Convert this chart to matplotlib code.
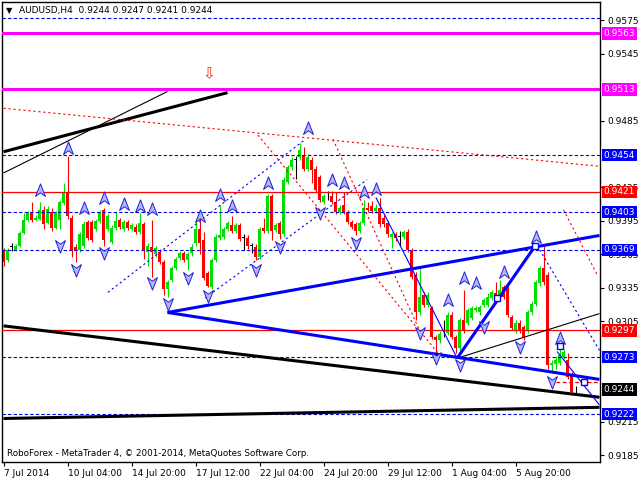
import numpy as np
import matplotlib.pyplot as plt
from matplotlib.path import Path
import matplotlib.transforms as mtransforms

# AUDUSD H4 candles
opens = [0.9369, 0.9360, 0.9372, 0.9369, 0.9373, 0.9384, 0.9396, 0.9402, 0.9396, 0.9397,
         0.9405, 0.9393, 0.9403, 0.9389, 0.9396, 0.9411, 0.9421, 0.9398, 0.9372, 0.9369,
         0.9373, 0.9394, 0.9394, 0.9388, 0.9395, 0.9405, 0.9388, 0.9376, 0.9389, 0.9396,
         0.9388, 0.9394, 0.9388, 0.9390, 0.9385, 0.9392, 0.9367, 0.9372, 0.9365, 0.9367,
         0.9358, 0.9334, 0.9342, 0.9353, 0.9362, 0.9366, 0.9360, 0.9366, 0.9375, 0.9388,
         0.9378, 0.9348, 0.9336, 0.9360, 0.9380, 0.9381, 0.9388, 0.9391, 0.9386, 0.9391,
         0.9380, 0.9380, 0.9373, 0.9372, 0.9363, 0.9389, 0.9386, 0.9417, 0.9387, 0.9393,
         0.9383, 0.9430, 0.9443, 0.9450, 0.9452, 0.9454, 0.9442, 0.9450, 0.9442, 0.9434,
         0.9412, 0.9418, 0.9417, 0.9412, 0.9403, 0.9409, 0.9403, 0.9394, 0.9392, 0.9386,
         0.9393, 0.9407, 0.9408, 0.9404, 0.9407, 0.9398, 0.9393, 0.9381, 0.9383, 0.9381,
         0.9381, 0.9385, 0.9369, 0.9347, 0.9313, 0.9329, 0.9320, 0.9317, 0.9291, 0.9288,
         0.9293, 0.9295, 0.9311, 0.9291, 0.9281, 0.9306, 0.9304, 0.9308, 0.9315, 0.9313,
         0.9320, 0.9320, 0.9326, 0.9330, 0.9326, 0.9336, 0.9335, 0.9309, 0.9297, 0.9304,
         0.9300, 0.9297, 0.9313, 0.9321, 0.9339, 0.9353, 0.9347, 0.9266, 0.9267, 0.9268,
         0.9273, 0.9270, 0.9258, 0.9244]
highs = [0.9371, 0.9371, 0.9375, 0.9374, 0.9386, 0.9402, 0.9404, 0.9412, 0.9400, 0.9412,
         0.9408, 0.9408, 0.9407, 0.9404, 0.9414, 0.9429, 0.9453, 0.9400, 0.9374, 0.9385,
         0.9395, 0.9396, 0.9396, 0.9397, 0.9405, 0.9407, 0.9401, 0.9391, 0.9403, 0.9398,
         0.9396, 0.9396, 0.9393, 0.9392, 0.9402, 0.9394, 0.9375, 0.9396, 0.9373, 0.9370,
         0.9360, 0.9342, 0.9355, 0.9363, 0.9368, 0.9368, 0.9367, 0.9374, 0.9396, 0.9398,
         0.9385, 0.9350, 0.9362, 0.9383, 0.9409, 0.9390, 0.9395, 0.9399, 0.9393, 0.9393,
         0.9383, 0.9382, 0.9375, 0.9374, 0.9390, 0.9398, 0.9419, 0.9419, 0.9393, 0.9395,
         0.9434, 0.9445, 0.9452, 0.9453, 0.9465, 0.9461, 0.9455, 0.9452, 0.9444, 0.9436,
         0.9419, 0.9422, 0.9422, 0.9421, 0.9409, 0.9421, 0.9405, 0.9396, 0.9394, 0.9395,
         0.9414, 0.9412, 0.9413, 0.9410, 0.9416, 0.9400, 0.9395, 0.9385, 0.9385, 0.9386,
         0.9387, 0.9388, 0.9371, 0.9349, 0.9353, 0.9331, 0.9331, 0.9319, 0.9293, 0.9296,
         0.9306, 0.9313, 0.9313, 0.9293, 0.9308, 0.9333, 0.9317, 0.9319, 0.9319, 0.9320,
         0.9326, 0.9330, 0.9333, 0.9340, 0.9342, 0.9338, 0.9337, 0.9311, 0.9306, 0.9306,
         0.9302, 0.9315, 0.9323, 0.9342, 0.9355, 0.9374, 0.9349, 0.9270, 0.9274, 0.9283,
         0.9280, 0.9277, 0.9260, 0.9247]
lows = [0.9355, 0.9358, 0.9368, 0.9368, 0.9372, 0.9383, 0.9395, 0.9394, 0.9395, 0.9396,
        0.9388, 0.9392, 0.9386, 0.9388, 0.9388, 0.9409, 0.9397, 0.9363, 0.9358, 0.9367,
        0.9371, 0.9378, 0.9376, 0.9386, 0.9393, 0.9373, 0.9386, 0.9374, 0.9387, 0.9388,
        0.9386, 0.9387, 0.9386, 0.9383, 0.9383, 0.9361, 0.9355, 0.9345, 0.9363, 0.9356,
        0.9329, 0.9327, 0.9340, 0.9351, 0.9360, 0.9358, 0.9351, 0.9364, 0.9373, 0.9365,
        0.9342, 0.9336, 0.9334, 0.9358, 0.9378, 0.9379, 0.9386, 0.9384, 0.9384, 0.9377,
        0.9369, 0.9370, 0.9366, 0.9360, 0.9361, 0.9384, 0.9384, 0.9378, 0.9385, 0.9379,
        0.9381, 0.9428, 0.9441, 0.9433, 0.9450, 0.9440, 0.9440, 0.9429, 0.9421, 0.9412,
        0.9410, 0.9414, 0.9410, 0.9401, 0.9401, 0.9401, 0.9392, 0.9388, 0.9382, 0.9384,
        0.9391, 0.9403, 0.9402, 0.9402, 0.9390, 0.9390, 0.9381, 0.9371, 0.9377, 0.9373,
        0.9379, 0.9367, 0.9343, 0.9306, 0.9311, 0.9318, 0.9318, 0.9289, 0.9277, 0.9286,
        0.9291, 0.9293, 0.9289, 0.9277, 0.9279, 0.9295, 0.9302, 0.9306, 0.9313, 0.9311,
        0.9318, 0.9318, 0.9324, 0.9324, 0.9324, 0.9325, 0.9309, 0.9297, 0.9295, 0.9295,
        0.9288, 0.9295, 0.9311, 0.9319, 0.9337, 0.9338, 0.9262, 0.9259, 0.9262, 0.9266,
        0.9271, 0.9253, 0.9239, 0.9241]
closes = [0.9358, 0.9369, 0.9372, 0.9373, 0.9384, 0.9396, 0.9402, 0.9396, 0.9398, 0.9405,
          0.9392, 0.9406, 0.9389, 0.9402, 0.9412, 0.9421, 0.9399, 0.9369, 0.9368, 0.9383,
          0.9392, 0.9380, 0.9378, 0.9395, 0.9403, 0.9378, 0.9399, 0.9389, 0.9395, 0.9390,
          0.9394, 0.9389, 0.9391, 0.9385, 0.9393, 0.9368, 0.9373, 0.9367, 0.9371, 0.9358,
          0.9334, 0.9340, 0.9353, 0.9361, 0.9366, 0.9360, 0.9365, 0.9372, 0.9388, 0.9375,
          0.9344, 0.9337, 0.9360, 0.9381, 0.9382, 0.9388, 0.9393, 0.9386, 0.9391, 0.9379,
          0.9380, 0.9373, 0.9373, 0.9363, 0.9388, 0.9386, 0.9417, 0.9386, 0.9391, 0.9383,
          0.9432, 0.9443, 0.9450, 0.9450, 0.9459, 0.9442, 0.9452, 0.9441, 0.9423, 0.9414,
          0.9417, 0.9418, 0.9412, 0.9403, 0.9407, 0.9403, 0.9394, 0.9390, 0.9386, 0.9393,
          0.9407, 0.9405, 0.9404, 0.9407, 0.9392, 0.9392, 0.9383, 0.9383, 0.9380, 0.9381,
          0.9385, 0.9369, 0.9345, 0.9313, 0.9327, 0.9320, 0.9329, 0.9291, 0.9288, 0.9294,
          0.9293, 0.9311, 0.9291, 0.9281, 0.9306, 0.9297, 0.9315, 0.9317, 0.9317, 0.9318,
          0.9324, 0.9327, 0.9331, 0.9326, 0.9333, 0.9327, 0.9311, 0.9299, 0.9304, 0.9297,
          0.9290, 0.9313, 0.9321, 0.9340, 0.9353, 0.9340, 0.9266, 0.9268, 0.9270, 0.9275,
          0.9278, 0.9255, 0.9242, 0.9244]

date_bars = [0, 16, 32, 48, 64, 80, 96, 112, 128]
date_labels = ['7 Jul 2014', '10 Jul 04:00', '14 Jul 20:00', '17 Jul 12:00', '22 Jul 04:00',
               '24 Jul 20:00', '29 Jul 12:00', '1 Aug 04:00', '5 Aug 20:00']
# ticks every 0.0030; the ones fully covered by level boxes are left out
price_ticks = [0.9575, 0.9545, 0.9485, 0.9425, 0.9395, 0.9365,
               0.9335, 0.9305, 0.9215, 0.9185]

# horizontal levels
blue_levels = [0.9577, 0.9454, 0.9403, 0.9369, 0.9273, 0.9222]
magenta_levels = [0.9563, 0.9513]
red_levels = [0.9421, 0.9297]
level_boxes = [(0.9563, '#ff00ff'), (0.9513, '#ff00ff'), (0.9454, '#0000ff'),
               (0.9421, '#ff0000'), (0.9403, '#0000ff'), (0.9369, '#0000ff'),
               (0.9297, '#ff0000'), (0.9273, '#0000ff'), (0.9244, '#000000'),
               (0.9222, '#0000ff')]

# trend lines as (bar, price) pairs
black_thick = [[(0, 0.9457), (56, 0.9510)], [(0, 0.9301), (149, 0.9237)],
               [(0, 0.9218), (149, 0.9228)]]
black_thin = [[(0, 0.9438), (41, 0.9511)], [(113.4, 0.9272), (149, 0.9312)]]
blue_thick = [[(41, 0.9313), (149, 0.9382)], [(41, 0.9313), (149, 0.9253)],
              [(113.4, 0.9272), (133, 0.9373)]]
blue_thin = [[(93.1, 0.9416), (113.4, 0.9272)], [(138.4, 0.9278), (149, 0.9230)]]
blue_dotted = [[(26.1, 0.9331), (75.4, 0.9468)], [(50.4, 0.9326), (90.9, 0.9432)],
               [(133.4, 0.9373), (149, 0.9279)]]
red_dotted = [[(0, 0.9496), (149, 0.9444)], [(63.6, 0.9472), (109, 0.9275)],
              [(82.4, 0.9468), (104, 0.9297)], [(140, 0.9405), (148.4, 0.9347)]]
red_dash_short = [(138, 0.9251), (149, 0.9251)]

# fractal arrows
up_bars = [9, 16, 20, 25, 30, 34, 37, 49, 54, 57, 66, 76, 82, 85, 90, 93, 111, 115, 118, 125, 133, 139]
up_prices = [0.9423, 0.9460, 0.9407, 0.9416, 0.9410, 0.9408, 0.9406, 0.9399, 0.9418, 0.9408,
             0.9429, 0.9478, 0.9432, 0.9429, 0.9421, 0.9424, 0.9324, 0.9344, 0.9339, 0.9349,
             0.9381, 0.9290]
dn_bars = [14, 18, 25, 37, 41, 46, 51, 63, 69, 79, 88, 104, 108, 114, 120, 129, 137]
dn_prices = [0.9373, 0.9351, 0.9366, 0.9339, 0.9321, 0.9344, 0.9328, 0.9351, 0.9372, 0.9402,
             0.9375, 0.9295, 0.9272, 0.9266, 0.9300, 0.9282, 0.9251]
square_bars = [123.4, 132.9, 139, 145]
square_prices = [0.9326, 0.9373, 0.9283, 0.9251]

opens, highs, lows, closes = map(np.array, (opens, highs, lows, closes))
idx = np.arange(len(opens))

fig = plt.figure(figsize=(6.4, 4.8), dpi=100)
ax = fig.add_axes([2 / 640, 18 / 480, 598 / 640, 460 / 480])
ax.set_xlim(-0.375, 149.125)
ax.set_ylim(0.91790, 0.95912)

# candles
cols = np.where(closes > opens, '#00e000', np.where(closes < opens, '#ff0000', '#000000'))
ax.vlines(idx, lows, highs, colors=cols, lw=0.8, zorder=2)
body = np.maximum(np.abs(closes - opens), 0.00002)
ax.bar(idx, body, bottom=np.minimum(opens, closes), width=0.7, color=cols, linewidth=0, zorder=2)

# levels
for v in blue_levels:
    ax.axhline(v, color='#0000dd', lw=0.8, ls=(0, (3, 2)), zorder=3)
for v in magenta_levels:
    ax.axhline(v, color='#ff00ff', lw=2.2, zorder=3)
for v in red_levels:
    ax.axhline(v, color='#ff0000', lw=0.9, zorder=3)

def draw(lines, **kw):
    for seg in lines:
        xs, ys = zip(*seg)
        ax.plot(xs, ys, solid_capstyle='butt', zorder=3, **kw)

draw(black_thick, color='black', lw=2.2)
draw(black_thin, color='black', lw=0.8)
draw(blue_thick, color='#0000ff', lw=2.2)
draw(blue_thin, color='#0000ff', lw=0.8)
draw(blue_dotted, color='#0000ff', lw=0.8, ls=(0, (2, 2.5)))
draw(red_dotted, color='#ff0000', lw=0.8, ls=(0, (2, 2.5)))
draw([red_dash_short], color='#ff0000', lw=0.9, ls=(0, (3, 2)))

up_path = Path([(0, 1), (0.75, -0.9), (0, -0.35), (-0.75, -0.9), (0, 1)],
               [Path.MOVETO, Path.LINETO, Path.LINETO, Path.LINETO, Path.CLOSEPOLY])
dn_path = Path([(0, -1), (0.75, 0.9), (0, 0.35), (-0.75, 0.9), (0, -1)],
               [Path.MOVETO, Path.LINETO, Path.LINETO, Path.LINETO, Path.CLOSEPOLY])
ax.plot(up_bars, up_prices, ls='none', marker=up_path, ms=9.5, mfc='#b4b4ff', mec='#2020d0', mew=0.7, zorder=4)
ax.plot(dn_bars, dn_prices, ls='none', marker=dn_path, ms=9.5, mfc='#b4b4ff', mec='#2020d0', mew=0.7, zorder=4)
ax.plot(square_bars, square_prices, ls='none', marker='s', ms=5, mfc='white', mec='#0000ff', mew=1, zorder=4)

ax.text(51.4, 0.9527, '\u21e9', color='#ff2000', fontsize=11, ha='center', va='center', zorder=4)

# axes styling
ax.yaxis.tick_right()
ax.set_yticks(price_ticks)
ax.set_yticklabels([f'{t:.4f}' for t in price_ticks])
ax.set_xticks(date_bars)
ax.set_xticklabels(date_labels)
for lab in ax.get_xticklabels():
    lab.set_horizontalalignment('left')
ax.tick_params(axis='y', direction='out', length=3, pad=2, labelsize=6.5, width=0.8)
ax.tick_params(axis='x', direction='out', length=3, pad=2, labelsize=6.5, width=0.8)
for s in ax.spines.values():
    s.set_linewidth(1)

trans = mtransforms.blended_transform_factory(ax.transAxes, ax.transData)
for v, c in level_boxes:
    ax.text(1.006, v, f'{v:.4f}', transform=trans, color='white', fontsize=6.5,
            ha='left', va='center', zorder=10,
            bbox=dict(boxstyle='square,pad=0.2', fc=c, ec='none'))

ax.text(0.007, 0.981, '\u25bc', transform=ax.transAxes, fontsize=6, va='center', ha='left')
ax.text(0.028, 0.981, 'AUDUSD,H4  0.9244 0.9247 0.9241 0.9244', transform=ax.transAxes,
        fontsize=6.5, va='center', ha='left')
ax.text(0.008, 0.019, 'RoboForex - MetaTrader 4, \u00a9 2001-2014, MetaQuotes Software Corp.',
        transform=ax.transAxes, fontsize=6.3, va='center', ha='left')

fig.savefig('out.png', dpi=100)
